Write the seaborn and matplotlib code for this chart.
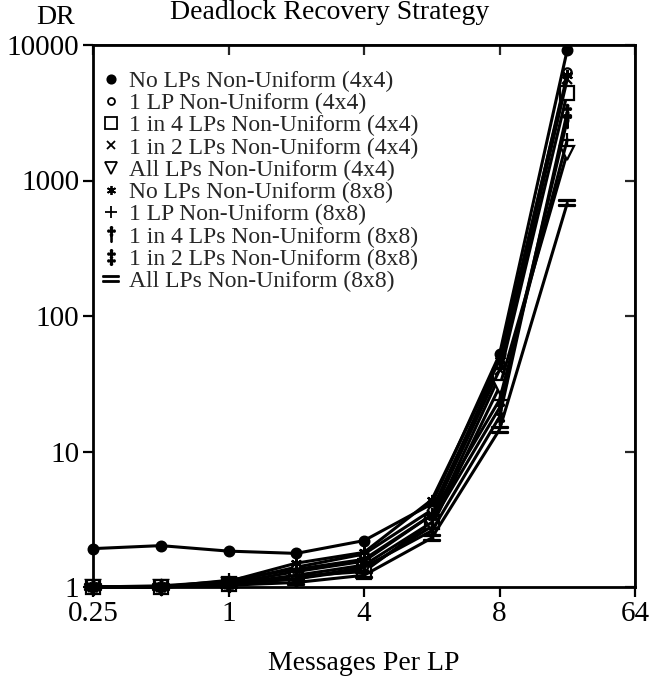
import matplotlib
matplotlib.use("Agg")
import matplotlib.pyplot as plt
import seaborn as sns
import pandas as pd
from matplotlib.lines import Line2D
from matplotlib.ticker import NullLocator, FixedLocator, FixedFormatter

# ---------------- data ----------------
messages = [0.25, 0.5, 1, 2, 4, 8, 16, 32]

labels = [
    "No LPs Non-Uniform (4x4)",
    "1 LP Non-Uniform (4x4)",
    "1 in 4 LPs Non-Uniform (4x4)",
    "1 in 2 LPs Non-Uniform (4x4)",
    "All LPs Non-Uniform (4x4)",
    "No LPs Non-Uniform (8x8)",
    "1 LP Non-Uniform (8x8)",
    "1 in 4 LPs Non-Uniform (8x8)",
    "1 in 2 LPs Non-Uniform (8x8)",
    "All LPs Non-Uniform (8x8)",
]

no_lps_4x4 = [1.92, 2.02, 1.84, 1.77, 2.20, 4.1, 52, 9200]
one_lp_4x4 = [1.00, 1.00, 1.08, 1.40, 1.75, 3.7, 44, 6300]
one_in_4_4x4 = [1.00, 1.00, 1.05, 1.20, 1.30, 3.0, 36, 4400]
one_in_2_4x4 = [1.00, 1.00, 1.06, 1.30, 1.55, 3.4, 40, 5600]
all_lps_4x4 = [1.00, 1.00, 1.04, 1.15, 1.35, 2.8, 30, 1600]
no_lps_8x8 = [1.00, 1.02, 1.10, 1.50, 1.80, 4.4, 47, 6000]
one_lp_8x8 = [1.00, 1.00, 1.12, 1.35, 1.60, 3.4, 24, 2000]
one_in_4_8x8 = [1.00, 1.00, 1.05, 1.22, 1.45, 3.0, 21, 2800]
one_in_2_8x8 = [1.00, 1.00, 1.05, 1.15, 1.40, 2.6, 18, 3200]
all_lps_8x8 = [1.00, 1.00, 1.03, 1.08, 1.22, 2.3, 14.5, 680]

series = [no_lps_4x4, one_lp_4x4, one_in_4_4x4, one_in_2_4x4, all_lps_4x4,
          no_lps_8x8, one_lp_8x8, one_in_4_8x8, one_in_2_8x8, all_lps_8x8]

xtick_pos = [0.25, 1, 4, 16, 64]
xtick_labels = ["0.25", "1", "4", "8", "64"]
ytick_vals = [1, 10, 100, 1000, 10000]
ytick_labels = ["1", "10", "100", "1000", "10000"]

# ---------------- styles ----------------
marker_styles = [
    dict(marker="o", ms=7, mfc="black", lms=6),
    dict(marker="o", ms=6, mfc="white", lms=5),
    dict(marker="s", ms=10, mfc="white", lms=9),
    dict(marker="x", ms=7, mfc="black", lms=6),
    dict(marker="v", ms=10, mfc="white", lms=8),
    dict(marker=(6, 2, 0), ms=8, mfc="black", lms=6.5),
    dict(marker="+", ms=10, mfc="black", lms=9),
    dict(marker="$\\dagger$", ms=11, mfc="black", lms=11),
    dict(marker="$\\ddagger$", ms=11, mfc="black", lms=11),
    dict(marker="$=$", ms=11, mfc="black", lms=11),
]

sns.set_theme(style="ticks")
plt.rcParams["font.family"] = ["Liberation Serif", "DejaVu Serif"]
plt.rcParams["mathtext.fontset"] = "stix"

fig = plt.figure(figsize=(6.51, 6.82), dpi=100)
fig.patch.set_facecolor("white")
ax = fig.add_axes([93 / 651, 1 - 587 / 682, (635 - 93) / 651, (587 - 45) / 682])
ax.set_facecolor("white")

for lab, vals, st in zip(labels, series, marker_styles):
    df = pd.DataFrame({"Messages": messages, "DR": vals})
    sns.lineplot(data=df, x="Messages", y="DR", ax=ax, color="black", lw=2.2,
                 marker=st["marker"], markersize=st["ms"], markerfacecolor=st["mfc"],
                 markeredgecolor="black", markeredgewidth=1.6, clip_on=False,
                 legend=False)

ax.set_xscale("log", base=2)
ax.set_yscale("log")
ax.set_xlim(0.25, 64)
ax.set_ylim(1, 10000)

ax.xaxis.set_major_locator(FixedLocator(xtick_pos))
ax.xaxis.set_major_formatter(FixedFormatter(xtick_labels))
ax.xaxis.set_minor_locator(NullLocator())
ax.yaxis.set_major_locator(FixedLocator(ytick_vals))
ax.yaxis.set_major_formatter(FixedFormatter(ytick_labels))
ax.yaxis.set_minor_locator(NullLocator())

ax.tick_params(direction="out", length=7, width=1.6, labelsize=21, colors="black", pad=3)
for sp in ax.spines.values():
    sp.set_linewidth(2.0)
    sp.set_color("black")
    sp.set_visible(True)

secx = ax.secondary_xaxis("top")
secx.xaxis.set_major_locator(FixedLocator(xtick_pos))
secx.xaxis.set_minor_locator(NullLocator())
secx.tick_params(direction="in", length=7, width=1.6, labeltop=False)
secy = ax.secondary_yaxis("right")
secy.yaxis.set_major_locator(FixedLocator(ytick_vals))
secy.yaxis.set_minor_locator(NullLocator())
secy.tick_params(direction="in", length=7, width=1.6, labelright=False)

ax.set_xlabel("Messages Per LP", fontsize=20, color="black", labelpad=17)
ax.set_ylabel("")

fig.text(0.507, 1 - 19 / 682, "Deadlock Recovery Strategy", ha="center", va="baseline",
         fontsize=20, color="black")
fig.text(56 / 651, 1 - 18 / 682, "DR", ha="center", va="center", fontsize=20, color="black")

handles = [Line2D([], [], linestyle="none", color="black", marker=st["marker"],
                  markersize=st["lms"], markerfacecolor=st["mfc"],
                  markeredgecolor="black", markeredgewidth=1.3)
           for st in marker_styles]
ax.legend(handles, labels, loc="upper left", bbox_to_anchor=(-0.004, 0.975),
          frameon=False, fontsize=17, handlelength=0.7, handletextpad=0.4,
          labelspacing=0.03, borderaxespad=0.3, borderpad=0.2)

fig.savefig("out.png", dpi=100, facecolor="white")
